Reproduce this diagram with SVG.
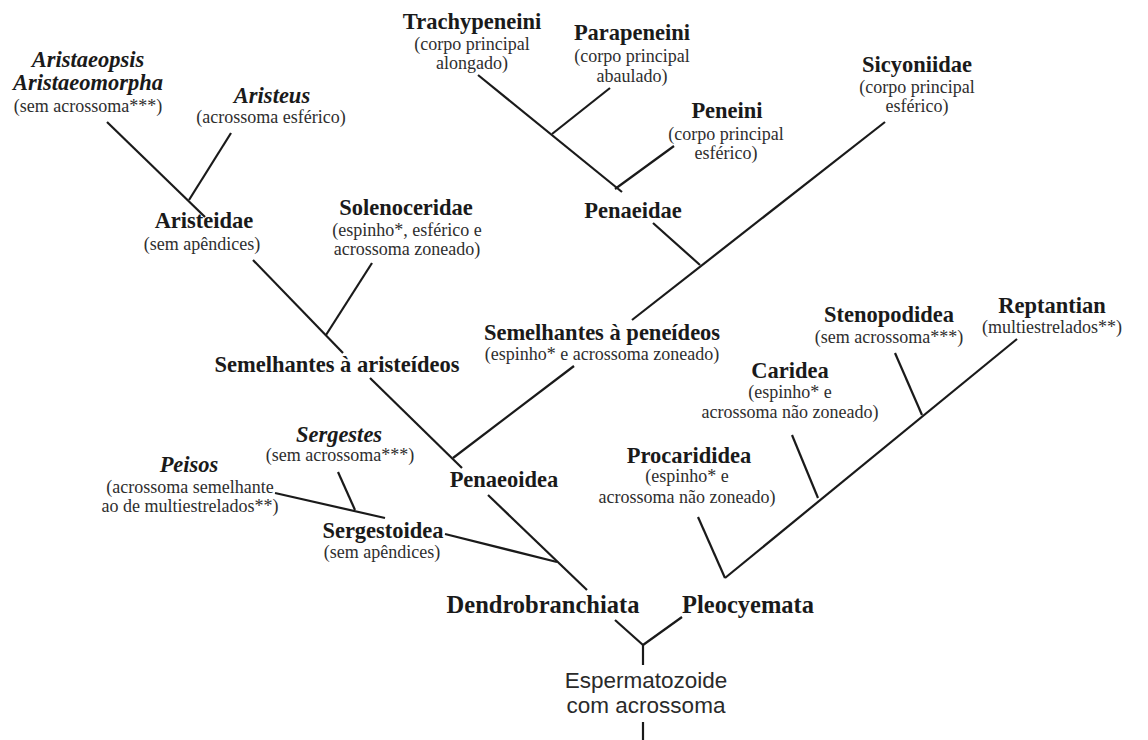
<svg xmlns="http://www.w3.org/2000/svg" width="1148" height="740" viewBox="0 0 1148 740">
<style>
.b{font-family:"Liberation Serif","Times New Roman",serif;font-weight:bold;font-size:22.5px;fill:#1a1a1a;text-anchor:middle}
.bi{font-family:"Liberation Serif","Times New Roman",serif;font-weight:bold;font-style:italic;font-size:22.5px;fill:#1a1a1a;text-anchor:middle}
.big{font-family:"Liberation Serif","Times New Roman",serif;font-weight:bold;font-size:24.5px;fill:#1a1a1a;text-anchor:middle}
.r{font-family:"Liberation Serif","Times New Roman",serif;font-size:18px;fill:#2e2e2e;text-anchor:middle}
.s{font-family:"Liberation Sans",Arial,sans-serif;font-size:22.5px;fill:#2a2a2a;text-anchor:middle}
.c line{stroke:#1a1a1a;stroke-width:2.2;stroke-linecap:butt}
</style>
<rect width="1148" height="740" fill="#fff"/>
<g id="connectors" class="c">
<line x1="107" y1="122" x2="205" y2="217"/>
<line x1="231" y1="133" x2="189" y2="200"/>
<line x1="253" y1="260" x2="343" y2="353"/>
<line x1="372" y1="263" x2="326" y2="335"/>
<line x1="370" y1="378" x2="462" y2="468"/>
<line x1="478" y1="75" x2="622" y2="192"/>
<line x1="610" y1="88" x2="552" y2="134"/>
<line x1="674" y1="146" x2="615" y2="189"/>
<line x1="653" y1="223" x2="700" y2="265"/>
<line x1="885" y1="122" x2="632" y2="320"/>
<line x1="574" y1="366" x2="453" y2="458"/>
<line x1="488" y1="495" x2="587" y2="590"/>
<line x1="445" y1="534" x2="557" y2="562"/>
<line x1="275" y1="493" x2="385" y2="518"/>
<line x1="338" y1="472" x2="355" y2="510"/>
<line x1="698" y1="517" x2="725" y2="578"/>
<line x1="1017" y1="339" x2="725" y2="578"/>
<line x1="792" y1="435" x2="818" y2="498"/>
<line x1="895" y1="353" x2="922" y2="415"/>
<line x1="615" y1="620" x2="643" y2="645"/>
<line x1="682" y1="617" x2="643" y2="645"/>
<line x1="643" y1="645" x2="643" y2="665"/>
<line x1="643" y1="722" x2="643" y2="740"/>
</g>
<g id="aristaeopsis"><text class="bi" x="88" y="67">Aristaeopsis</text><text class="bi" x="88" y="90">Aristaeomorpha</text><text class="r" x="88" y="112">(sem acrossoma***)</text></g>
<g id="aristeus"><text class="bi" x="272" y="103">Aristeus</text><text class="r" x="271" y="123">(acrossoma esférico)</text></g>
<g id="aristeidae"><text class="b" x="204" y="228">Aristeidae</text><text class="r" x="202" y="250">(sem apêndices)</text></g>
<g id="solenoceridae"><text class="b" x="406" y="215">Solenoceridae</text><text class="r" x="407" y="236">(espinho*, esférico e</text><text class="r" x="407" y="255">acrossoma zoneado)</text></g>
<g id="trachypeneini"><text class="b" x="472" y="29">Trachypeneini</text><text class="r" x="472" y="50">(corpo principal</text><text class="r" x="472" y="69">alongado)</text></g>
<g id="parapeneini"><text class="b" x="632" y="40">Parapeneini</text><text class="r" x="632" y="62">(corpo principal</text><text class="r" x="632" y="82">abaulado)</text></g>
<g id="peneini"><text class="b" x="727" y="118">Peneini</text><text class="r" x="726" y="140">(corpo principal</text><text class="r" x="726" y="159">esférico)</text></g>
<g id="penaeidae"><text class="b" x="633" y="218">Penaeidae</text></g>
<g id="sicyoniidae"><text class="b" x="917" y="72">Sicyoniidae</text><text class="r" x="917" y="93">(corpo principal</text><text class="r" x="917" y="112">esférico)</text></g>
<g id="semelhantes-aristeideos"><text class="b" x="337" y="372">Semelhantes à aristeídeos</text></g>
<g id="semelhantes-peneideos"><text class="b" x="602" y="340">Semelhantes à peneídeos</text><text class="r" x="602" y="360">(espinho* e acrossoma zoneado)</text></g>
<g id="penaeoidea"><text class="b" x="504" y="487">Penaeoidea</text></g>
<g id="sergestes"><text class="bi" x="339" y="442">Sergestes</text><text class="r" x="340" y="461">(sem acrossoma***)</text></g>
<g id="peisos"><text class="bi" x="189" y="472">Peisos</text><text class="r" x="190" y="493">(acrossoma semelhante</text><text class="r" x="190" y="512">ao de multiestrelados**)</text></g>
<g id="sergestoidea"><text class="b" x="383" y="538">Sergestoidea</text><text class="r" x="382" y="558">(sem apêndices)</text></g>
<g id="dendrobranchiata"><text class="big" x="543" y="613">Dendrobranchiata</text></g>
<g id="pleocyemata"><text class="big" x="748" y="613">Pleocyemata</text></g>
<g id="procarididea"><text class="b" x="689" y="463">Procarididea</text><text class="r" x="687" y="482">(espinho* e</text><text class="r" x="687" y="503">acrossoma não zoneado)</text></g>
<g id="caridea"><text class="b" x="790" y="378">Caridea</text><text class="r" x="790" y="398">(espinho* e</text><text class="r" x="790" y="418">acrossoma não zoneado)</text></g>
<g id="stenopodidea"><text class="b" x="889" y="322">Stenopodidea</text><text class="r" x="889" y="343">(sem acrossoma***)</text></g>
<g id="reptantian"><text class="b" x="1052" y="313">Reptantian</text><text class="r" x="1052" y="333">(multiestrelados**)</text></g>
<g id="espermatozoide"><text class="s" x="646" y="688">Espermatozoide</text><text class="s" x="646" y="713">com acrossoma</text></g>
</svg>
